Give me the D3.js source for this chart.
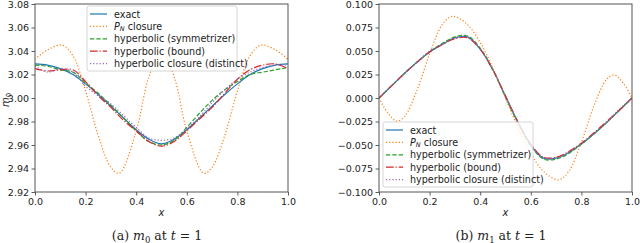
<!DOCTYPE html>
<html>
<head>
<meta charset="utf-8">
<script src="https://cdn.jsdelivr.net/npm/d3@7"></script>
<style>
body { margin: 0; background: #fff; }
svg { display: block; }
text { font-family: "DejaVu Sans", sans-serif; }
</style>
</head>
<body>
<script>
// sample positions for the closure solutions
var xs = [0, 0.05, 0.1, 0.15, 0.2, 0.25, 0.3, 0.35, 0.4, 0.45, 0.5,
          0.55, 0.6, 0.65, 0.7, 0.75, 0.8, 0.85, 0.9, 0.95, 1];

// m0 at t = 1
var m0Exact = [3.029, 3.028, 3.025, 3.020, 3.012, 3.003, 2.993, 2.983, 2.973, 2.965, 2.961,
               2.965, 2.973, 2.983, 2.993, 3.003, 3.012, 3.020, 3.025, 3.028, 3.029];
var m0PnX = [0, 0.05, 0.107, 0.15, 0.2, 0.25, 0.3, 0.333, 0.4, 0.45, 0.5,
             0.55, 0.6, 0.667, 0.7, 0.75, 0.8, 0.85, 0.893, 0.95, 1];
var m0Pn = [3.033, 3.041, 3.045, 3.036, 3.006, 2.968, 2.941, 2.936, 2.972, 3.018, 3.040,
            3.018, 2.972, 2.936, 2.941, 2.968, 3.006, 3.036, 3.045, 3.041, 3.033];
var m0Sym = [3.028, 3.027, 3.024, 3.022, 3.013, 3.004, 2.994, 2.983, 2.972, 2.963, 2.960,
             2.964, 2.975, 2.987, 2.998, 3.007, 3.014, 3.020, 3.022, 3.024, 3.026];
var m0Bound = [3.025, 3.023, 3.024, 3.024, 3.014, 3.002, 2.992, 2.981, 2.972, 2.963, 2.959,
               2.963, 2.972, 2.982, 2.992, 3.004, 3.016, 3.024, 3.028, 3.029, 3.025];
var m0Dist = [3.027, 3.022, 3.025, 3.022, 3.010, 3.002, 2.995, 2.985, 2.975, 2.966, 2.964,
              2.966, 2.974, 2.984, 2.996, 3.007, 3.016, 3.022, 3.026, 3.028, 3.028];

// m1 at t = 1
var m1Exact = [0, 0.013, 0.026, 0.038, 0.049, 0.057, 0.064, 0.065, 0.052, 0.030, 0.002,
               -0.026, -0.050, -0.064, -0.064, -0.058, -0.049, -0.038, -0.026, -0.013, 0];
var m1PnX = [0, 0.035, 0.07, 0.1, 0.15, 0.2, 0.25, 0.29, 0.35, 0.4, 0.45, 0.5,
             0.55, 0.6, 0.65, 0.71, 0.75, 0.8, 0.85, 0.9, 0.93, 0.965, 1];
var m1Pn = [0, -0.016, -0.0245, -0.020, 0.008, 0.047, 0.078, 0.087, 0.078, 0.059, 0.032, 0,
            -0.032, -0.059, -0.078, -0.087, -0.078, -0.047, -0.008, 0.020, 0.0245, 0.016, 0];
var m1Sym = [0, 0.013, 0.026, 0.038, 0.049, 0.058, 0.065, 0.066, 0.053, 0.030, 0.001,
             -0.027, -0.051, -0.065, -0.065, -0.059, -0.049, -0.038, -0.026, -0.013, 0];
var m1Bound = [0, 0.013, 0.026, 0.038, 0.049, 0.057, 0.063, 0.064, 0.052, 0.030, 0.002,
               -0.026, -0.049, -0.063, -0.063, -0.057, -0.048, -0.037, -0.025, -0.013, 0];
var m1Dist = [0, 0.013, 0.026, 0.038, 0.050, 0.057, 0.064, 0.065, 0.052, 0.030, 0.002,
              -0.026, -0.050, -0.063, -0.064, -0.058, -0.048, -0.038, -0.026, -0.012, 0];

var xTicks = [0, 0.2, 0.4, 0.6, 0.8, 1.0];
var m0Ticks = [2.92, 2.94, 2.96, 2.98, 3.00, 3.02, 3.04, 3.06, 3.08];
var m1Ticks = [-0.100, -0.075, -0.050, -0.025, 0, 0.025, 0.050, 0.075, 0.100];

var names = ["exact", "P_N closure", "hyperbolic (symmetrizer)", "hyperbolic (bound)", "hyperbolic closure (distinct)"];
var colors = ["#1f77b4", "#ff7f0e", "#2ca02c", "#d62728", "#9467bd"];
var dashes = [null, "1.2,2", "4.4,1.9", "7.7,1.9,1.2,1.9", "1.2,2"];

var svg = d3.select("body").append("svg")
    .attr("width", 640)
    .attr("height", 243);

function panel(opt) {
    var x = d3.scaleLinear().domain([0, 1]).range([opt.left, opt.right]);
    var y = d3.scaleLinear().domain(opt.domain).range([192, 4]);

    var g = svg.append("g");
    var clipId = "clip" + opt.left;
    g.append("clipPath").attr("id", clipId)
        .append("rect")
        .attr("x", opt.left).attr("y", 4)
        .attr("width", opt.right - opt.left).attr("height", 188);

    var series = [
        {xv: xs, yv: opt.exact},
        {xv: opt.pnX, yv: opt.pn},
        {xv: xs, yv: opt.sym},
        {xv: xs, yv: opt.bound},
        {xv: xs, yv: opt.dist}
    ];

    var line = d3.line()
        .x(function (d) { return x(d[0]); })
        .y(function (d) { return y(d[1]); })
        .curve(d3.curveCatmullRom.alpha(0.5));

    series.forEach(function (s, i) {
        g.append("path")
            .datum(s.xv.map(function (v, j) { return [v, s.yv[j]]; }))
            .attr("clip-path", "url(#" + clipId + ")")
            .attr("d", line)
            .attr("fill", "none")
            .attr("stroke", colors[i])
            .attr("stroke-width", 1.2)
            .attr("stroke-dasharray", dashes[i]);
    });

    var xAxis = g.append("g")
        .attr("transform", "translate(0,192)")
        .call(d3.axisBottom(x).tickValues(xTicks).tickFormat(d3.format(".1f")).tickSize(3.5).tickPadding(2.5));
    var yAxis = g.append("g")
        .attr("transform", "translate(" + opt.left + ",0)")
        .call(d3.axisLeft(y).tickValues(opt.ticks).tickFormat(opt.fmt).tickSize(3.5).tickPadding(2.5));
    [xAxis, yAxis].forEach(function (a) {
        a.select(".domain").remove();
        a.selectAll("line").attr("stroke", "#333").attr("stroke-width", 0.8);
        a.selectAll("text").attr("font-size", 9.5).attr("fill", "#222")
            .style("font-family", "'DejaVu Sans', sans-serif");
    });

    g.append("rect")
        .attr("x", opt.left).attr("y", 4)
        .attr("width", opt.right - opt.left).attr("height", 188)
        .attr("fill", "none").attr("stroke", "#555").attr("stroke-width", 1);

    g.append("text")
        .attr("x", (opt.left + opt.right) / 2).attr("y", 216)
        .attr("text-anchor", "middle")
        .attr("font-size", 10).attr("font-style", "italic").attr("fill", "#222")
        .text("x");

    // legend
    var lg = g.append("g").attr("transform", "translate(" + opt.legX + "," + opt.legY + ")");
    lg.append("rect")
        .attr("width", 150).attr("height", 65).attr("rx", 2)
        .attr("fill", "#fff").attr("fill-opacity", 0.8)
        .attr("stroke", "#ccc").attr("stroke-width", 0.8);
    names.forEach(function (n, i) {
        var yy = 8 + i * 12.4;
        lg.append("line")
            .attr("x1", 3).attr("x2", 20).attr("y1", yy).attr("y2", yy)
            .attr("stroke", colors[i]).attr("stroke-width", 1.2)
            .attr("stroke-dasharray", dashes[i]);
        var t = lg.append("text")
            .attr("x", 27).attr("y", yy + 3.5)
            .attr("font-size", 9.6).attr("fill", "#222");
        if (i === 1) {
            t.append("tspan").attr("font-style", "italic").text("P");
            t.append("tspan").attr("font-style", "italic").attr("font-size", 6.5).attr("dy", 1.5).text("N");
            t.append("tspan").attr("dy", -1.5).text(" closure");
        } else {
            t.text(n);
        }
    });

    // caption
    var cap = svg.append("text")
        .attr("x", opt.capX).attr("y", 240)
        .attr("text-anchor", "middle")
        .attr("font-size", 12.5).attr("fill", "#222")
        .style("font-family", "'DejaVu Serif', serif");
    cap.append("tspan").text(opt.capLabel + " ");
    cap.append("tspan").attr("font-style", "italic").text("m");
    cap.append("tspan").attr("font-size", 8.5).attr("dy", 2.5).text(opt.capSub);
    cap.append("tspan").attr("dy", -2.5).text(" at ");
    cap.append("tspan").attr("font-style", "italic").text("t");
    cap.append("tspan").text(" = 1");
}

panel({
    left: 35, right: 288, domain: [2.92, 3.08], ticks: m0Ticks, fmt: d3.format(".2f"),
    exact: m0Exact, pnX: m0PnX, pn: m0Pn, sym: m0Sym, bound: m0Bound, dist: m0Dist,
    legX: 87, legY: 6, capX: 157, capLabel: "(a)", capSub: "0"
});
panel({
    left: 379, right: 632, domain: [-0.1, 0.1], ticks: m1Ticks,
    fmt: function (d) { return d3.format(".3f")(d).replace("-", "\u2212"); },
    exact: m1Exact, pnX: m1PnX, pn: m1Pn, sym: m1Sym, bound: m1Bound, dist: m1Dist,
    legX: 383, legY: 122, capX: 501, capLabel: "(b)", capSub: "1"
});

// y labels
var yl = svg.append("text")
    .attr("transform", "translate(9,100) rotate(-90)")
    .attr("text-anchor", "middle")
    .attr("font-size", 10).attr("fill", "#222");
yl.append("tspan").attr("font-style", "italic").text("m");
yl.append("tspan").attr("font-size", 7).attr("dy", 2).text("0");

// right ylabel is cut off at the panel edge, only a sliver shows
svg.append("clipPath").attr("id", "ylclip")
    .append("rect").attr("x", 337).attr("y", 80).attr("width", 10).attr("height", 30);
var yr = svg.append("text")
    .attr("clip-path", "url(#ylclip)")
    .attr("transform", "translate(333,100) rotate(-90)")
    .attr("text-anchor", "middle")
    .attr("font-size", 10).attr("fill", "#222");
yr.append("tspan").attr("font-style", "italic").text("m");
yr.append("tspan").attr("font-size", 7).attr("dy", 2).text("1");
</script>
</body>
</html>
